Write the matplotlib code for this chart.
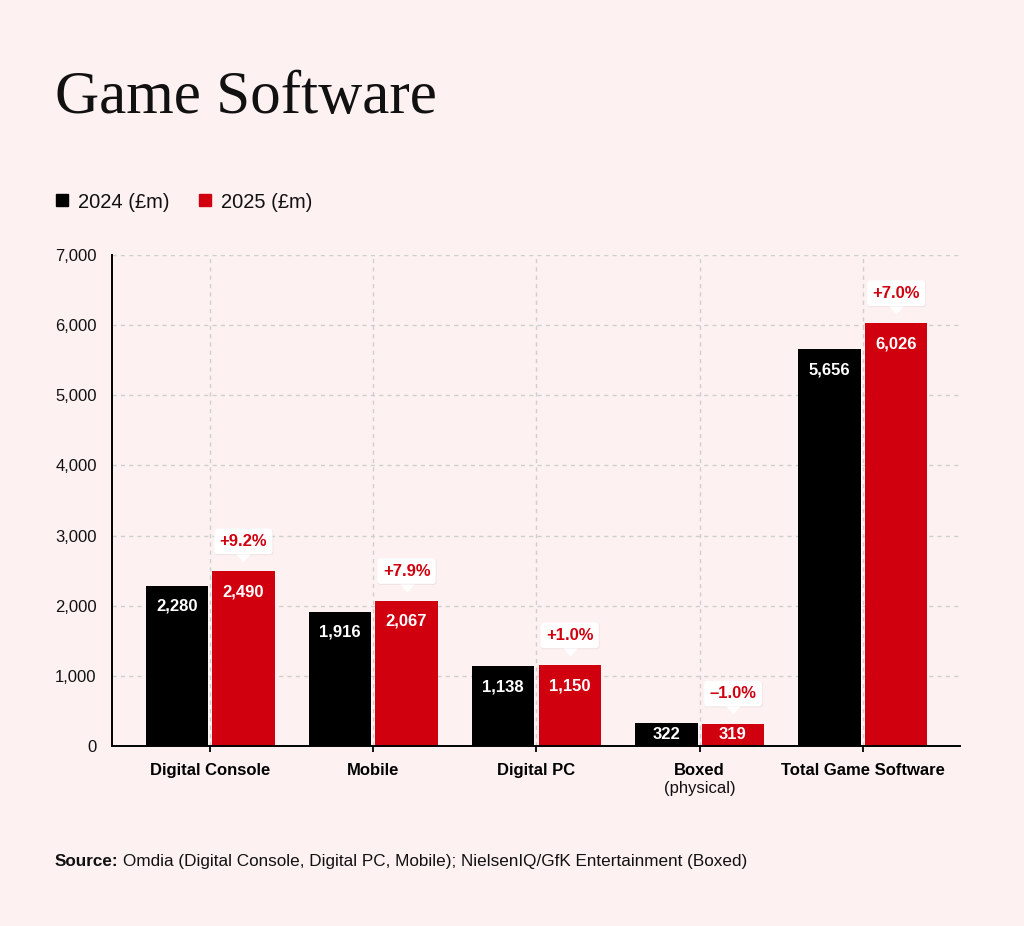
import matplotlib
matplotlib.use("Agg")
import matplotlib.pyplot as plt
from matplotlib.lines import Line2D
from matplotlib.transforms import offset_copy
import numpy as np

categories = ["Digital Console", "Mobile", "Digital PC", "Boxed", "Total Game Software"]
sales_2024 = [2280, 1916, 1138, 322, 5656]
sales_2025 = [2490, 2067, 1150, 319, 6026]
change_pct = [9.2, 7.9, 1.0, -1.0, 7.0]
y_ticks = [0, 1000, 2000, 3000, 4000, 5000, 6000, 7000]

BG = "#FDF1F1"
RED = "#D0000F"
BLACK = "#000000"
GRID = "#CFCFCF"
TEXT = "#111111"

plt.rcParams["font.family"] = ["Liberation Sans", "DejaVu Sans"]

fig = plt.figure(figsize=(10.24, 9.26), dpi=100, facecolor=BG)
ax = fig.add_axes([112 / 1024, 1 - 746 / 926, 848 / 1024, 491 / 926])
ax.set_facecolor(BG)

x = np.arange(len(categories))
width = 0.383
off = 0.204

ax.bar(x - off, sales_2024, width, color=BLACK, zorder=2)
ax.bar(x + off, sales_2025, width, color=RED, zorder=2)

ax.set_xlim(-0.601, 4.595)
ax.set_ylim(0, 7000)

# value labels inside the bars
for xs, vals in ((x - off, sales_2024), (x + off, sales_2025)):
    for xi, v in zip(xs, vals):
        y = v / 2 if v < 600 else v - 290
        ax.text(xi, y, f"{v:,}", ha="center", va="center", color="white",
                fontsize=12, fontweight="bold", zorder=3)

# change callouts above the 2025 bars
tri = [(-7, 0), (7, 0), (0, -8)]
for xi, v, c in zip(x + off, sales_2025, change_pct):
    label = f"{c:+.1f}%".replace("-", "\u2013")
    # faint shadow under the box
    ax.annotate(label, xy=(xi, v), xytext=(0.4, 21.0), textcoords="offset points",
                ha="center", va="center", color="none", fontsize=12, fontweight="bold",
                bbox=dict(boxstyle="round,pad=0.34,rounding_size=0.2", fc="#000000",
                          ec="none", alpha=0.05),
                zorder=3.5)
    ax.annotate(label, xy=(xi, v), xytext=(0, 21.6), textcoords="offset points",
                ha="center", va="center", color=RED, fontsize=12, fontweight="bold",
                bbox=dict(boxstyle="round,pad=0.32,rounding_size=0.2", fc="white", ec="none"),
                zorder=4)
    tr = offset_copy(ax.transData, fig=fig, x=0, y=12.6, units="points")
    ax.plot([xi], [v], marker=tri, ms=11.5, color="white", mec="none",
            transform=tr, zorder=4, clip_on=False)

# axes, ticks, grid
ax.set_yticks(y_ticks)
ax.set_yticklabels([f"{t:,}" for t in y_ticks], fontsize=12)
ax.set_xticks(x)
ax.set_xticklabels(categories, fontsize=12, fontweight="bold")
ax.grid(True, color=GRID, linestyle=(0, (3, 3)), linewidth=1)
ax.set_axisbelow(True)

ax.tick_params(axis="y", length=0, pad=11, colors=TEXT)
ax.tick_params(axis="x", length=4.5, width=1.3, pad=8, colors=BLACK)

for s in ("top", "right"):
    ax.spines[s].set_visible(False)
for s in ("left", "bottom"):
    ax.spines[s].set_linewidth(1.4)
    ax.spines[s].set_color(BLACK)

ax.annotate("(physical)", xy=(3, 0), xycoords=("data", "axes fraction"),
            xytext=(0, -30.5), textcoords="offset points", ha="center", va="center",
            fontsize=12, color=TEXT)

# title
fig.text(55 / 1024, 1 - 113 / 926, "Game Software", family="Liberation Serif",
         fontsize=44, va="baseline", ha="left", color=TEXT)

# legend
handles = [
    Line2D([], [], marker="s", ls="", color=BLACK, ms=8.5, label="2024 (£m)"),
    Line2D([], [], marker="s", ls="", color=RED, ms=8.5, label="2025 (£m)"),
]
fig.legend(handles=handles, loc="center left", bbox_to_anchor=(54 / 1024, 1 - 202 / 926),
           ncol=2, frameon=False, fontsize=14.5, handlelength=0.8, handletextpad=0.4,
           columnspacing=1.35, borderpad=0, borderaxespad=0, labelcolor=TEXT)

# source line: bold lead-in, then regular text on the same baseline
src_y = 1 - 866 / 926
src = fig.text(55 / 1024, src_y, "Source:", fontsize=12.3, fontweight="bold",
               va="baseline", ha="left", color=TEXT)
renderer = fig.canvas.get_renderer()
ext = src.get_window_extent(renderer=renderer)
x_next = (ext.x1 + 4) / fig.bbox.width
fig.text(x_next, src_y,
         "Omdia (Digital Console, Digital PC, Mobile); NielsenIQ/GfK Entertainment (Boxed)",
         fontsize=12.3, va="baseline", ha="left", color=TEXT)

fig.savefig("out.png", dpi=100, facecolor=BG)
